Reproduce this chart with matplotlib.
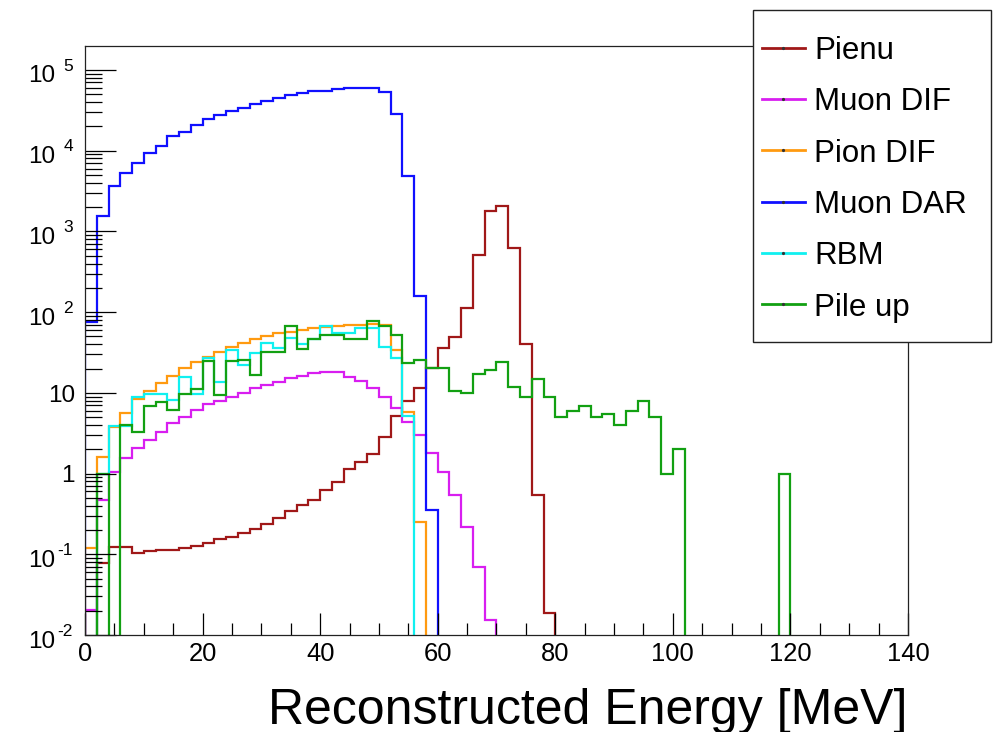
import numpy as np
import matplotlib
matplotlib.use("Agg")
import matplotlib.pyplot as plt
from matplotlib.ticker import FixedLocator, MultipleLocator, LogLocator, NullFormatter
from matplotlib.lines import Line2D
from matplotlib.patches import Rectangle

plt.rcParams["font.family"] = ["Liberation Sans", "DejaVu Sans"]

# Reconstructed energy binning: 2 MeV bins from 0 to 140 MeV
bin_edges = np.arange(0, 142, 2)

# Entries per bin (0 = empty bin)
pienu = [0, 0.077, 0.124, 0.124, 0.103, 0.11, 0.113, 0.113, 0.119, 0.127,
         0.139, 0.156, 0.165, 0.182, 0.204, 0.237, 0.279, 0.347, 0.408, 0.471,
         0.626, 0.79, 1.13, 1.38, 1.75, 2.87, 5.2, 8.0, 11.4, 20.2,
         35.7, 49.7, 114, 512, 1810, 2090, 620, 40, 0.54, 0.0186]

muon_dif = [0.0204, 0.47, 1.06, 1.55, 2.06, 2.6, 3.3, 4.2, 5.07, 6.1,
            7.3, 7.9, 9.0, 9.9, 11.4, 12.5, 13.8, 15.1, 16.2, 17.5,
            18.3, 18.0, 15.9, 14.1, 11.4, 8.8, 6.4, 4.4, 3.0, 1.78,
            1.06, 0.54, 0.22, 0.07, 0.0154]

pion_dif = [0.119, 1.62, 3.8, 5.6, 8.4, 10.4, 13.1, 16.3, 20.2, 24.4,
            28, 32.5, 37.4, 41, 46, 50, 55, 57.5, 60.5, 63,
            66, 67, 69, 70, 71, 70, 34, 5.85, 0.249]

muon_dar = [76, 1550, 3700, 5300, 7000, 9300, 11400, 15000, 16800, 20700,
            24800, 27600, 31400, 33900, 37700, 41700, 44700, 48700, 51500, 55600,
            55600, 57800, 60500, 60500, 60500, 54000, 28600, 4880, 160, 0.354]

rbm = [0, 1.0, 3.9, 3.9, 8.8, 9.6, 9.8, 8.2, 15.9, 9.8,
       26.8, 13.8, 34, 22, 31, 41, 36, 48, 40, 47,
       67, 55, 55, 63, 63, 37, 27, 5.1]

pile_up = [0, 1.0, 0, 4.0, 3.3, 6.9, 7.8, 6.1, 9.6, 11.1,
           24.8, 9.4, 24.8, 25.6, 16.7, 32.4, 32.4, 67.5, 34.6, 46,
           52, 52, 46, 46, 78.5, 67.5, 52, 23.3, 25.6, 20.2,
           20.2, 10.4, 9.9, 17.1, 19.2, 24.4, 11.9, 9.0, 14.7, 9.0,
           5.0, 6.0, 6.8, 5.0, 5.5, 4.0, 5.9, 7.9, 5.0, 1.0,
           2.0, 0, 0, 0, 0, 0, 0, 0, 0, 1.0]

series_labels = ["Pienu", "Muon DIF", "Pion DIF", "Muon DAR", "RBM", "Pile up"]
series_values = [pienu, muon_dif, pion_dif, muon_dar, rbm, pile_up]
series_colors = ["#a01818", "#d81ef0", "#ff9a10", "#1010ff", "#10f0f0", "#12a012"]

xtick_values = [0, 20, 40, 60, 80, 100, 120, 140]
ytick_exponents = [-2, -1, 0, 1, 2, 3, 4, 5]

W, H = 1004, 732
fig = plt.figure(figsize=(W / 100, H / 100), dpi=100)
ax = fig.add_axes([85 / W, 1 - 635 / H, (908 - 85) / W, (635 - 46) / H])

y_min, y_max = 1e-2, 1.98e5
floor = 1e-5  # empty bins drop below the visible range, like ROOT on a log axis

n_bins = len(bin_edges) - 1
for vals, col in zip(series_values, series_colors):
    full = np.zeros(n_bins)
    full[:len(vals)] = vals
    full = np.where(full > 0, full, floor)
    ax.stairs(full, bin_edges, baseline=floor, fill=False, color=col,
              linewidth=1.6, joinstyle="miter")

ax.set_yscale("log")
ax.set_xlim(0, 140)
ax.set_ylim(y_min, y_max)

ax.xaxis.set_major_locator(FixedLocator(xtick_values))
ax.xaxis.set_minor_locator(MultipleLocator(5))
ax.yaxis.set_major_locator(FixedLocator([10.0 ** e for e in ytick_exponents]))
ax.yaxis.set_major_formatter(NullFormatter())
ax.yaxis.set_minor_locator(LogLocator(base=10, subs=np.arange(2, 10)))
ax.yaxis.set_minor_formatter(NullFormatter())

ax.tick_params(axis="x", which="major", direction="in", length=15.6, width=0.9,
               labelsize=18.4, pad=5, top=False)
ax.tick_params(axis="x", which="minor", direction="in", length=8.4, width=0.9, top=False)
ax.tick_params(axis="y", which="major", direction="in", length=22.5, width=0.9, right=False)
ax.tick_params(axis="y", which="minor", direction="in", length=12, width=0.9, right=False)
for s in ax.spines.values():
    s.set_linewidth(0.9)
    s.set_color("#222222")

# ROOT-style decade labels: "1", "10", and 10 with a raised exponent
ytrans = ax.get_yaxis_transform()
for e in ytick_exponents:
    v = 10.0 ** e
    if e in (0, 1):
        ax.annotate(str(int(v)), xy=(0, v), xycoords=ytrans, xytext=(-7.2, -6.4),
                    textcoords="offset points", ha="right", va="baseline",
                    fontsize=17.5, annotation_clip=False)
    else:
        ax.annotate("10", xy=(0, v), xycoords=ytrans, xytext=(-21.6, -9.0),
                    textcoords="offset points", ha="right", va="baseline",
                    fontsize=17.5, annotation_clip=False)
        ax.annotate(str(e), xy=(0, v), xycoords=ytrans, xytext=(-8.6, -0.5),
                    textcoords="offset points", ha="right", va="baseline",
                    fontsize=12.5, annotation_clip=False)

fig.text(908 / W, 1 - 724 / H, "Reconstructed Energy [MeV]", fontsize=36,
         ha="right", va="baseline")

# Legend box drawn in figure pixels
def fx(px):
    return px / W

def fy(py):
    return 1 - py / H

box = Rectangle((fx(753), fy(342)), fx(991) - fx(753), fy(10) - fy(342),
                transform=fig.transFigure, facecolor="white", edgecolor="#222222",
                linewidth=1.0, zorder=10)
fig.add_artist(box)
row_y0, row_dy = 47.7, 51.3
for i, (lab, col) in enumerate(zip(series_labels, series_colors)):
    yy = fy(row_y0 + i * row_dy)
    fig.add_artist(Line2D([fx(762), fx(783.5), fx(805)], [yy, yy, yy],
                          transform=fig.transFigure, color=col, linewidth=2.0,
                          marker="o", markersize=1.3, markevery=[1],
                          markerfacecolor="#333333", markeredgecolor="#333333",
                          zorder=11))
    fig.text(fx(814), yy, lab, fontsize=22.5, ha="left", va="center_baseline",
             zorder=12)

fig.savefig("out.png", dpi=100)
